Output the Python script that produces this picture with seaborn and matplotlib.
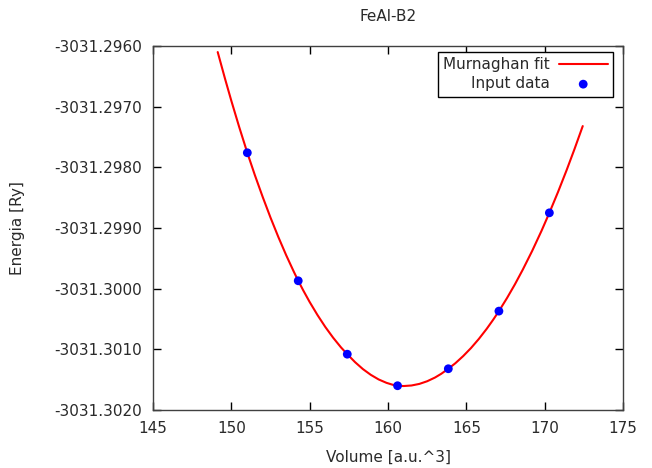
import pandas as pd
import matplotlib
matplotlib.use("Agg")
import matplotlib.pyplot as plt
import seaborn as sns

# Input data points (volume in a.u.^3, energy in Ry)
volume = [151.02, 154.27, 157.40, 160.61, 163.85, 167.08, 170.30]
energy = [-3031.29776, -3031.29987, -3031.30108, -3031.30160,
          -3031.30132, -3031.30037, -3031.29875]

# Murnaghan fit curve
fit_volume = [149.13, 149.6, 150.0, 150.5, 151.02, 151.5, 152.0, 152.5,
              153.0, 153.5, 154.0, 154.27, 154.6, 155.0, 155.5, 156.0,
              156.5, 157.0, 157.4, 157.9, 158.4, 158.9, 159.4, 159.9,
              160.3, 160.61, 161.0, 161.5, 162.0, 162.5, 163.0, 163.4,
              163.85, 164.3, 164.8, 165.3, 165.8, 166.3, 166.7, 167.08,
              167.6, 168.1, 168.6, 169.2, 169.8, 170.3, 170.85, 171.4,
              171.9, 172.43]
fit_energy = [-3031.296100, -3031.296542, -3031.296903, -3031.297334,
              -3031.297760, -3031.298127, -3031.298487, -3031.298828,
              -3031.299148, -3031.299448, -3031.299727, -3031.299870,
              -3031.300033, -3031.300220, -3031.300435, -3031.300632,
              -3031.300809, -3031.300968, -3031.301080, -3031.301212,
              -3031.301326, -3031.301420, -3031.301496, -3031.301552,
              -3031.301584, -3031.301600, -3031.301605, -3031.301596,
              -3031.301570, -3031.301526, -3031.301465, -3031.301403,
              -3031.301320, -3031.301229, -3031.301111, -3031.300978,
              -3031.300828, -3031.300662, -3031.300517, -3031.300370,
              -3031.300153, -3031.299929, -3031.299688, -3031.299379,
              -3031.299046, -3031.298750, -3031.298408, -3031.298047,
              -3031.297702, -3031.297320]

x_ticks = [145, 150, 155, 160, 165, 170, 175]
y_ticks = [-3031.3020, -3031.3010, -3031.3000, -3031.2990,
           -3031.2980, -3031.2970, -3031.2960]

df_fit = pd.DataFrame({"Volume": fit_volume, "Energy": fit_energy})
df_data = pd.DataFrame({"Volume": volume, "Energy": energy})

sns.set_theme(style="ticks")
plt.rcParams["font.family"] = ["DejaVu Sans"]
plt.rcParams["axes.unicode_minus"] = False
text_color = "#2a2a2a"
fs = 11

fig = plt.figure(figsize=(6.52, 4.68), dpi=100)
ax = fig.add_axes([153 / 652, 1 - 410 / 468, 470 / 652, 364 / 468])

sns.lineplot(data=df_fit, x="Volume", y="Energy", ax=ax, sort=False,
             color="#ff0000", linewidth=1.5, label="Murnaghan fit")
sns.scatterplot(data=df_data, x="Volume", y="Energy", ax=ax,
                color="#0000ff", s=40, edgecolor="none", zorder=3,
                label="Input data")

ax.set_xlim(145, 175)
ax.set_ylim(-3031.3020, -3031.2960)
ax.set_xticks(x_ticks)
ax.set_yticks(y_ticks)
ax.set_xticklabels([str(t) for t in x_ticks])
ax.set_yticklabels([f"{t:.4f}" for t in y_ticks])

ax.tick_params(direction="in", length=6, width=1, color="black",
               top=True, right=True, labelsize=fs, labelcolor=text_color, pad=8)
for side in ax.spines.values():
    side.set_visible(True)
    side.set_color("#404040")
    side.set_linewidth(1)

ax.set_title("FeAl-B2", fontsize=fs, color=text_color, pad=18)
ax.set_xlabel("Volume [a.u.^3]", fontsize=fs, color=text_color, labelpad=10)
ax.set_ylabel("Energia [Ry]", fontsize=fs, color=text_color, labelpad=21)

leg = ax.legend(loc="upper right", bbox_to_anchor=(460 / 470, 358 / 364),
                borderaxespad=0, markerfirst=False, fancybox=False,
                framealpha=1, edgecolor="black", fontsize=fs,
                handlelength=3.2, handletextpad=0.6, borderpad=0.35,
                labelspacing=0.25)
leg.get_frame().set_linewidth(1)
for t in leg.get_texts():
    t.set_color(text_color)

plt.savefig("out.png", dpi=100)
